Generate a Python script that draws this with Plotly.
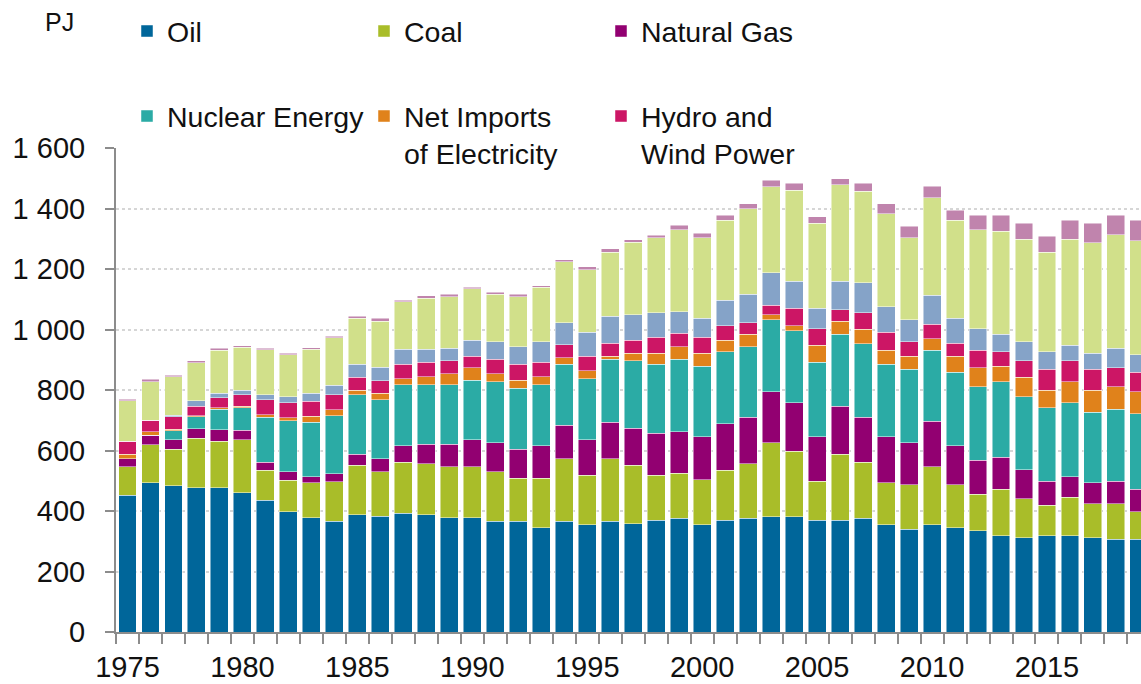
import plotly.graph_objects as go

years = [str(y) for y in range(1975, 2020)]

oil = [452, 494, 483, 477, 477, 461, 435, 398, 377, 366,
       388, 383, 392, 387, 377, 377, 366, 366, 344, 366,
       355, 366, 358, 370, 376, 355, 370, 376, 381, 381,
       370, 370, 376, 355, 340, 355, 344, 334, 319, 312,
       319, 319, 312, 307, 307]
coal = [95, 125, 121, 164, 153, 174, 99, 104, 116, 131,
        163, 146, 170, 170, 169, 169, 164, 142, 164, 206,
        164, 206, 193, 149, 149, 148, 165, 181, 244, 217,
        128, 217, 186, 138, 147, 192, 143, 122, 153, 129,
        100, 126, 112, 117, 91]
natural_gas = [26, 32, 32, 31, 38, 32, 27, 28, 21, 26,
               37, 44, 53, 64, 75, 90, 96, 96, 107, 112,
               117, 122, 122, 138, 137, 143, 154, 153, 170, 160,
               148, 160, 148, 153, 138, 149, 128, 112, 106, 95,
               79, 69, 69, 74, 74]
nuclear = [0, 0, 30, 39, 68, 75, 149, 169, 179, 192,
           197, 195, 202, 196, 196, 196, 201, 202, 202, 201,
           202, 208, 223, 228, 239, 233, 238, 233, 238, 238,
           245, 238, 243, 239, 244, 236, 244, 243, 249, 242,
           244, 244, 233, 239, 249]
net_imports = [14, 11, 4, 4, 5, 4, 8, 10, 21, 20,
               15, 21, 21, 26, 36, 42, 26, 26, 26, 21,
               26, 9, 26, 37, 42, 43, 37, 42, 16, 16,
               57, 43, 48, 47, 43, 38, 52, 63, 52, 64,
               58, 69, 74, 74, 74]
hydro_wind = [44, 38, 41, 32, 33, 38, 49, 49, 49, 49,
              42, 42, 47, 48, 43, 37, 49, 53, 48, 43,
              47, 43, 42, 53, 45, 53, 48, 38, 31, 58,
              54, 37, 54, 59, 47, 48, 43, 58, 48, 54,
              68, 69, 68, 63, 64]
peat = [0, 0, 5, 17, 16, 15, 17, 20, 26, 31,
        43, 44, 49, 43, 42, 53, 58, 58, 69, 74,
        80, 90, 85, 80, 71, 63, 85, 94, 107, 90,
        68, 95, 100, 85, 74, 95, 84, 70, 58, 63,
        59, 52, 53, 64, 58]
wood_fuels = [133, 128, 127, 126, 142, 142, 149, 138, 145, 157,
              153, 153, 158, 169, 170, 170, 157, 165, 180, 201,
              207, 212, 240, 249, 270, 266, 265, 283, 285, 301,
              281, 318, 302, 307, 271, 323, 324, 328, 340, 339,
              329, 350, 366, 376, 376]
others = [5, 8, 6, 6, 6, 6, 5, 6, 6, 6,
          5, 9, 5, 9, 9, 6, 6, 9, 5, 6,
          10, 11, 8, 8, 16, 15, 16, 15, 22, 22,
          21, 21, 26, 32, 37, 37, 32, 48, 53, 53,
          52, 64, 64, 64, 69]

series = [
    ('Oil', oil, '#00669a', 'legend'),
    ('Coal', coal, '#a9bd29', 'legend'),
    ('Natural Gas', natural_gas, '#920071', 'legend'),
    ('Nuclear Energy', nuclear, '#2baba5', 'legend2'),
    ('Net Imports<br>of Electricity', net_imports, '#e0821b', 'legend2'),
    ('Hydro and<br>Wind Power', hydro_wind, '#cc1665', 'legend2'),
    ('Peat', peat, '#85a3c8', None),
    ('Wood Fuels', wood_fuels, '#d1e08a', None),
    ('Others', others, '#c084ad', None),
]

FONT = 'Liberation Sans, Arial, sans-serif'

# plot area in pixels: x 116..1141, y 148..632
L, T, W, H = 116, 148, 1025, 484


def px(x):
    return (x - L) / W


def py(y):
    return (T + H - y) / H


fig = go.Figure()
for name, vals, color, leg in series:
    fig.add_trace(go.Bar(
        x=years, y=vals, name=name,
        marker=dict(color=color, line=dict(color='rgba(255,255,255,0.6)', width=0.8)),
        showlegend=leg is not None,
        legend=leg if leg else 'legend',
    ))

ticktext = [y if int(y) % 5 == 0 else '' for y in years]

legend_style = dict(
    orientation='h', xanchor='left', yanchor='top',
    entrywidth=192, entrywidthmode='pixels',
    font=dict(family=FONT, size=28.5, color='#111111'),
    valign='top', traceorder='normal', bgcolor='rgba(0,0,0,0)',
    itemclick=False, itemdoubleclick=False,
)

fig.update_layout(
    width=1141, height=684,
    barmode='stack', bargap=0.22,
    plot_bgcolor='white', paper_bgcolor='white',
    separators='. ',
    margin=dict(l=L, r=1141 - L - W, t=T, b=684 - T - H, autoexpand=False),
    font=dict(family=FONT, color='#111111'),
    legend=dict(x=px(127), y=py(6), **legend_style),
    legend2=dict(x=px(127), y=py(91), **legend_style),
    xaxis=dict(
        type='category', range=[-0.5, 44.09], automargin=False,
        tickvals=years, ticktext=ticktext,
        tickson='boundaries', ticks='outside', ticklen=10, tickwidth=2, tickcolor='#8c8c8c',
        showline=True, linecolor='#8c8c8c', linewidth=2, showgrid=False,
        tickfont=dict(family=FONT, size=29, color='#111111'), tickangle=0,
        ticklabelstandoff=8,
    ),
    yaxis=dict(
        range=[0, 1600], dtick=200, tickformat=',d', automargin=False,
        ticks='outside', ticklen=9, tickwidth=2, tickcolor='#8c8c8c',
        showline=True, linecolor='#8c8c8c', linewidth=2,
        showgrid=True, gridcolor='#d6d6d6', gridwidth=2, griddash='dot',
        zeroline=False, ticklabelstandoff=14,
        tickfont=dict(family=FONT, size=29, color='#111111'),
    ),
    annotations=[dict(
        text='PJ', xref='paper', yref='paper', x=px(59), y=py(22),
        xanchor='center', yanchor='middle', showarrow=False,
        font=dict(family=FONT, size=25, color='#111111'),
    )],
)

# page body has a default 8px margin; remove it so the figure fills the window
fig.write_html('out.html', config={'displayModeBar': False},
               post_script="document.body.style.margin='0';")
